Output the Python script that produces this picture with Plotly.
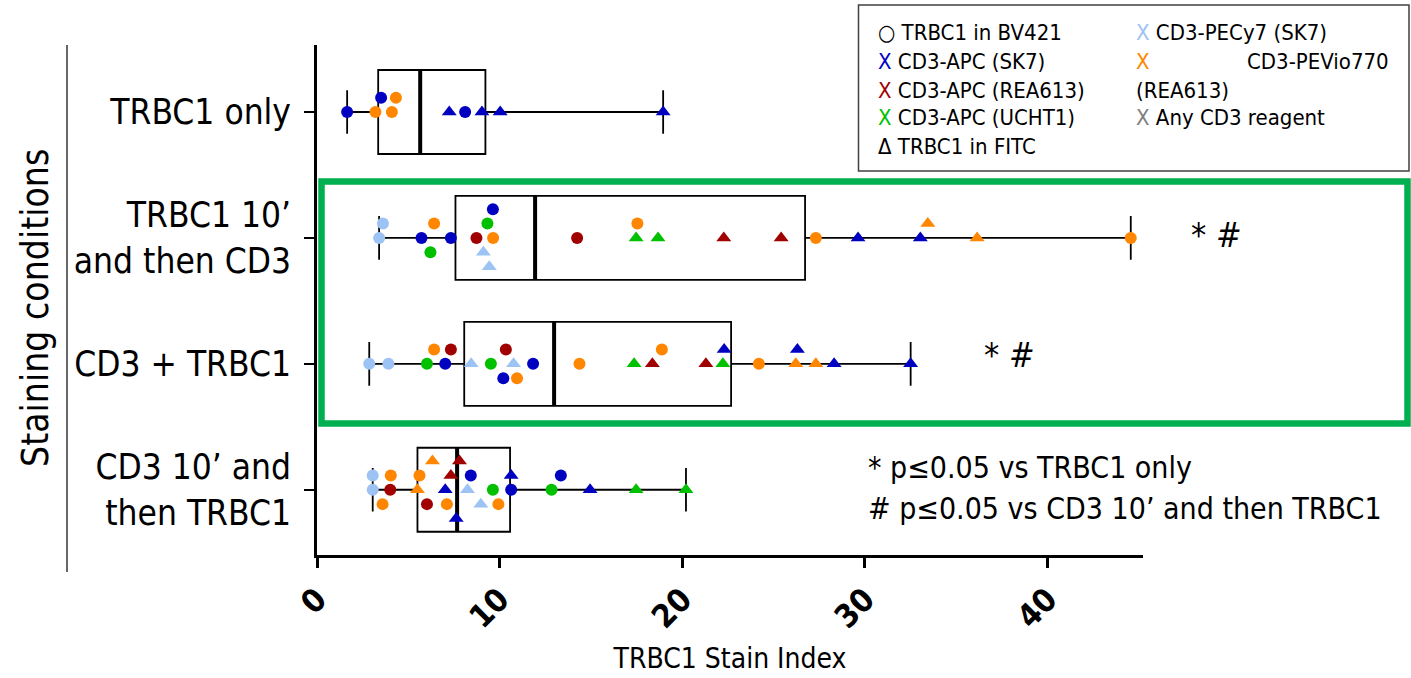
import plotly.graph_objects as go

# ---------------- data ----------------
conditions = ["TRBC1 only", "TRBC1 10’<br>and then CD3", "CD3 + TRBC1", "CD3 10’ and<br>then TRBC1"]

# TRBC1 stain index per condition, with the CD3 reagent used and the TRBC1 fluorochrome
si_trbc1_only = [1.65, 3.20, 4.10, 7.24, 8.11, 9.03, 10.03, 18.95, 4.32, 3.51]
cd3_trbc1_only = ["APC-SK7", "PEVio770-REA613", "PEVio770-REA613", "APC-SK7", "APC-SK7", "APC-SK7",
                  "APC-SK7", "APC-SK7", "PEVio770-REA613", "APC-SK7"]
fl_trbc1_only = ["BV421", "BV421", "BV421", "FITC", "BV421", "FITC", "FITC", "FITC", "BV421", "BV421"]

si_trbc1_then_cd3 = [3.40, 5.72, 7.33, 8.73, 9.64, 14.24, 17.47, 18.67, 22.27, 25.41, 27.31, 29.62, 33.03,
                     36.14, 44.55, 3.61, 6.41, 9.33, 17.54, 33.44, 6.21, 9.11, 9.63, 9.43]
cd3_trbc1_then_cd3 = ["PECy7-SK7", "APC-SK7", "APC-SK7", "APC-REA613", "PEVio770-REA613", "APC-REA613",
                      "APC-UCHT1", "APC-UCHT1", "APC-REA613", "APC-REA613", "PEVio770-REA613", "APC-SK7",
                      "APC-SK7", "PEVio770-REA613", "PEVio770-REA613", "PECy7-SK7", "PEVio770-REA613",
                      "APC-UCHT1", "PEVio770-REA613", "PEVio770-REA613", "APC-UCHT1", "PECy7-SK7",
                      "APC-SK7", "PECy7-SK7"]
fl_trbc1_then_cd3 = ["BV421", "BV421", "BV421", "BV421", "BV421", "BV421", "FITC", "FITC", "FITC", "FITC",
                     "BV421", "FITC", "FITC", "FITC", "BV421", "BV421", "BV421", "BV421", "BV421", "FITC",
                     "BV421", "FITC", "BV421", "FITC"]

si_cd3_plus_trbc1 = [2.86, 3.91, 6.02, 7.02, 8.44, 9.52, 10.76, 11.83, 14.37, 17.36, 18.36, 21.29, 22.22,
                     24.19, 26.21, 27.31, 28.31, 32.50, 6.41, 10.34, 10.95, 18.88, 22.29, 26.30, 7.33, 10.20]
cd3_cd3_plus_trbc1 = ["PECy7-SK7", "PECy7-SK7", "APC-UCHT1", "APC-SK7", "PECy7-SK7", "APC-UCHT1",
                      "PECy7-SK7", "APC-SK7", "PEVio770-REA613", "APC-UCHT1", "APC-REA613", "APC-REA613",
                      "APC-UCHT1", "PEVio770-REA613", "PEVio770-REA613", "PEVio770-REA613", "APC-SK7",
                      "APC-SK7", "PEVio770-REA613", "APC-REA613", "PEVio770-REA613", "PEVio770-REA613",
                      "APC-SK7", "APC-SK7", "APC-REA613", "APC-SK7"]
fl_cd3_plus_trbc1 = ["BV421", "BV421", "BV421", "BV421", "FITC", "BV421", "FITC", "BV421", "BV421", "FITC",
                     "FITC", "FITC", "FITC", "BV421", "FITC", "FITC", "FITC", "FITC", "BV421", "BV421",
                     "BV421", "BV421", "FITC", "FITC", "BV421", "BV421"]

si_cd3_then_trbc1 = [3.05, 4.01, 5.50, 7.02, 8.24, 9.63, 10.63, 12.84, 14.95, 17.47, 20.20, 3.05, 5.61, 7.33,
                     8.42, 10.63, 3.59, 4.04, 6.02, 7.11, 8.97, 9.93, 13.35, 6.32, 7.80, 7.62]
cd3_cd3_then_trbc1 = ["PECy7-SK7", "APC-REA613", "PEVio770-REA613", "APC-SK7", "PECy7-SK7", "APC-UCHT1",
                      "APC-SK7", "APC-UCHT1", "APC-SK7", "APC-UCHT1", "APC-UCHT1", "PECy7-SK7",
                      "PEVio770-REA613", "APC-REA613", "APC-SK7", "APC-SK7", "PEVio770-REA613",
                      "PEVio770-REA613", "APC-REA613", "PEVio770-REA613", "PECy7-SK7", "PEVio770-REA613",
                      "APC-SK7", "PEVio770-REA613", "APC-REA613", "APC-SK7"]
fl_cd3_then_trbc1 = ["BV421", "BV421", "FITC", "FITC", "FITC", "BV421", "BV421", "BV421", "FITC", "FITC",
                     "FITC", "BV421", "BV421", "FITC", "BV421", "FITC", "BV421", "BV421", "BV421", "BV421",
                     "FITC", "BV421", "BV421", "FITC", "FITC", "FITC"]

# box statistics (quartiles and median) per condition
box_q1 = [3.35, 7.58, 8.06, 5.50]
box_median = [5.65, 11.94, 12.98, 7.67]
box_q3 = [9.22, 26.72, 22.67, 10.57]

x_ticks = [0, 10, 20, 30, 40]

# ---------------- styles ----------------
FONT = "DejaVu Sans Condensed, Lato, sans-serif"
colors = {"APC-SK7": "#0000C0", "APC-REA613": "#A00000", "APC-UCHT1": "#00C000",
          "PECy7-SK7": "#9CC3F3", "PEVio770-REA613": "#FF8600"}
symbols = {"BV421": "circle", "FITC": "triangle-up"}
sizes = {"BV421": 12, "FITC": 13}

rows = [
    (si_trbc1_only, cd3_trbc1_only, fl_trbc1_only),
    (si_trbc1_then_cd3, cd3_trbc1_then_cd3, fl_trbc1_then_cd3),
    (si_cd3_plus_trbc1, cd3_cd3_plus_trbc1, fl_cd3_plus_trbc1),
    (si_cd3_then_trbc1, cd3_cd3_then_trbc1, fl_cd3_then_trbc1),
]


def swarm(vals, d=0.72, step=0.114):
    """Simple beeswarm: put each point in the first free lane (centre, above, below, ...)."""
    lanes = [0, -1, 1, -2, 2]
    placed = []
    offs = []
    for v in vals:
        chosen = lanes[-1]
        for ln in lanes:
            if all(abs(v - x) >= d for x, l in placed if l == ln):
                chosen = ln
                break
        placed.append((v, chosen))
        offs.append(chosen * step)
    return offs


BOX_W = 0.667
fig = go.Figure()

fig.add_trace(go.Box(
    orientation="h",
    y=list(range(len(conditions))),
    q1=box_q1, median=box_median, q3=box_q3,
    lowerfence=[min(r[0]) for r in rows],
    upperfence=[max(r[0]) for r in rows],
    width=BOX_W, whiskerwidth=0.52,
    line=dict(color="black", width=1.8),
    fillcolor="rgba(0,0,0,0)",
    boxpoints=False, hoverinfo="skip", showlegend=False,
))

# thick median lines
mx, my = [], []
for i, m in enumerate(box_median):
    mx += [m, m, None]
    my += [i - BOX_W / 2, i + BOX_W / 2, None]
fig.add_trace(go.Scatter(x=mx, y=my, mode="lines", line=dict(color="black", width=4),
                         hoverinfo="skip", showlegend=False))

for i, (vals, cd3, fl) in enumerate(rows):
    offs = swarm(vals)
    fig.add_trace(go.Scatter(
        x=vals, y=[i + o for o in offs], mode="markers",
        marker=dict(color=[colors[c] for c in cd3], symbol=[symbols[f] for f in fl],
                    size=[sizes[f] for f in fl], line=dict(width=0), opacity=1),
        opacity=1, showlegend=False,
    ))

# ---------------- layout helpers (pixel -> paper) ----------------
L, R, T, B = 317, 1143, 45, 555


def px(xp):
    return (xp - L) / (R - L)


def py(yp):
    return 1 - (yp - T) / (B - T)


shapes = [
    # green highlight frame
    dict(type="rect", xref="paper", yref="paper", x0=px(321.5), x1=px(1407.5), y0=py(423.5), y1=py(181.5),
         line=dict(color="#00B050", width=6.5)),
    # legend frame
    dict(type="rect", xref="paper", yref="paper", x0=px(858.5), x1=px(1409), y0=py(171), y1=py(5),
         line=dict(color="#404040", width=1.5), fillcolor="white", layer="below"),
    # thin vertical line beside the axis title
    dict(type="line", xref="paper", yref="paper", x0=px(67), x1=px(67), y0=py(572), y1=py(45),
         line=dict(color="black", width=1.2)),
]


def cx(c, t):
    return f"<span style='color:{c}'>{t}</span>"


LF = 22
legend_items = [
    (876, 32, "○ TRBC1 in BV421", "left"),
    (876, 61, cx(colors["APC-SK7"], "X") + " CD3-APC (SK7)", "left"),
    (876, 90, cx(colors["APC-REA613"], "X") + " CD3-APC (REA613)", "left"),
    (876, 118, cx(colors["APC-UCHT1"], "X") + " CD3-APC (UCHT1)", "left"),
    (876, 147, "Δ TRBC1 in FITC", "left"),
    (1134, 32, cx(colors["PECy7-SK7"], "X") + " CD3-PECy7 (SK7)", "left"),
    (1134, 61, cx(colors["PEVio770-REA613"], "X"), "left"),
    (1391, 61, "CD3-PEVio770", "right"),
    (1134, 90, "(REA613)", "left"),
    (1134, 118, cx("#808080", "X") + " Any CD3 reagent", "left"),
]
annotations = []
for xp, yp, txt, anc in legend_items:
    annotations.append(dict(xref="paper", yref="paper", x=px(xp), y=py(yp), text=txt, showarrow=False,
                            xanchor=anc, yanchor="middle", font=dict(family=FONT, size=LF, color="black")))

annotations += [
    dict(xref="paper", yref="paper", x=px(1189), y=py(235), text="* <i>#</i>", showarrow=False,
         xanchor="left", yanchor="middle", font=dict(family=FONT, size=34, color="black")),
    dict(xref="paper", yref="paper", x=px(982), y=py(355), text="* <i>#</i>", showarrow=False,
         xanchor="left", yanchor="middle", font=dict(family=FONT, size=34, color="black")),
    dict(xref="paper", yref="paper", x=px(866), y=py(467), text="* p≤0.05 vs TRBC1 only", showarrow=False,
         xanchor="left", yanchor="middle", font=dict(family=FONT, size=30, color="black")),
    dict(xref="paper", yref="paper", x=px(866), y=py(508), text="# p≤0.05 vs CD3 10’ and then TRBC1",
         showarrow=False, xanchor="left", yanchor="middle", font=dict(family=FONT, size=30, color="black")),
    dict(xref="paper", yref="paper", x=px(35), y=py(308), text="Staining conditions", textangle=-90,
         showarrow=False, xanchor="center", yanchor="middle", font=dict(family=FONT, size=37, color="black")),
]

fig.update_layout(
    width=1411, height=678,
    margin=dict(l=L, r=1411 - R, t=T, b=678 - B),
    paper_bgcolor="white", plot_bgcolor="white",
    font=dict(family=FONT, color="black"),
    shapes=shapes, annotations=annotations,
    showlegend=False,
    xaxis=dict(range=[0, 45.22], showgrid=False, zeroline=False, showline=True, linecolor="black",
               linewidth=3, ticks="outside", ticklen=10, tickwidth=3, tickcolor="black",
               tickvals=x_ticks, tickangle=-45, automargin=False,
               tickfont=dict(family=FONT, size=32, color="black", weight="bold"),
               title=dict(text="TRBC1 Stain Index", font=dict(family=FONT, size=28), standoff=14)),
    yaxis=dict(range=[3.518, -0.532], showgrid=False, zeroline=False, showline=True, linecolor="black",
               linewidth=3, ticks="outside", ticklen=10, tickwidth=2, tickcolor="black",
               tickvals=list(range(len(conditions))), ticktext=conditions, automargin=False,
               tickfont=dict(family=FONT, size=35, color="black"), ticklabelstandoff=6),
)

fig.write_html("out.html")
